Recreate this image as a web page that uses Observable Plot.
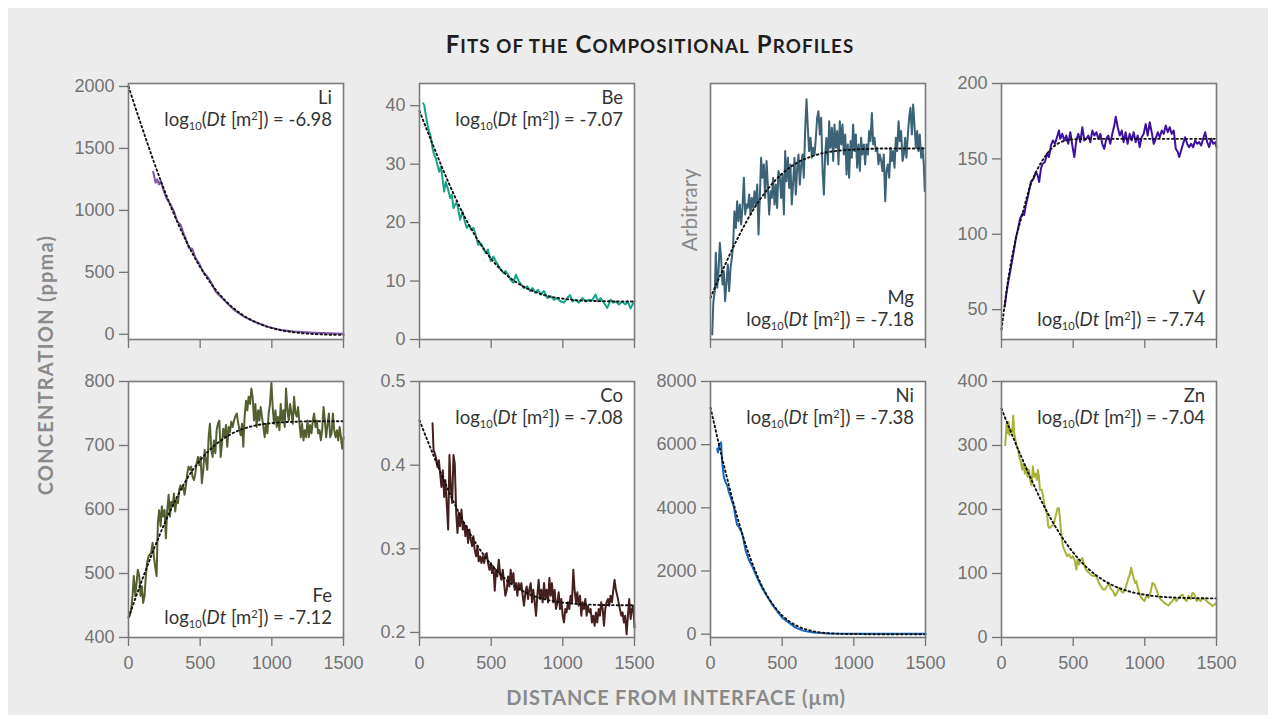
<!DOCTYPE html>
<html>
<head>
<meta charset="utf-8">
<script src="https://cdn.jsdelivr.net/npm/d3@7"></script>
<script src="https://cdn.jsdelivr.net/npm/@observablehq/plot@0.6"></script>
<style>
  html, body { margin: 0; padding: 0; background: #ffffff; }
  #page { position: relative; width: 1276px; height: 723px; overflow: hidden; background: #ffffff; }
  #bg { position: absolute; left: 8px; top: 8px; width: 1260px; height: 707px; background: #ececec; }
  .panel { position: absolute; }
  .panel svg { display: block; }
  .ann { position: absolute; text-align: right; font-family: Lato, "Open Sans", sans-serif; font-size: 18.5px; line-height: 22px; color: #333; white-space: nowrap; }
  .ann .sub { font-size: 0.6em; position: relative; top: 0.38em; }
  .ann .sup { font-size: 0.6em; position: relative; top: -0.5em; }
  #title { position: absolute; top: 45px; left: 650px; transform: translate(-50%, -50%); font-family: Lato, sans-serif; font-weight: 700; font-size: 24px; color: #1e1e1e; white-space: nowrap; letter-spacing: 1.1px; line-height: 26px; }
  #title .sc { font-size: 0.78em; }
  .axtitle { position: absolute; font-family: Lato, sans-serif; font-weight: 700; font-size: 20px; color: #8a8a8a; white-space: nowrap; }
  #ylab { left: 45px; top: 365px; transform: translate(-50%, -50%) rotate(-90deg); letter-spacing: 1.2px; }
  #xlab { left: 676px; top: 697px; transform: translate(-50%, -50%); letter-spacing: 0.8px; }
  #arb { position: absolute; left: 688px; top: 210px; transform: translate(-50%, -50%) rotate(-90deg); font-family: Lato, sans-serif; font-size: 21px; color: #8a8a8a; white-space: nowrap; }
</style>
</head>
<body>
<div id="page">
  <div id="bg"></div>
  <div id="title">F<span class="sc">ITS OF THE</span> C<span class="sc">OMPOSITIONAL</span> P<span class="sc">ROFILES</span></div>
  <div id="ylab" class="axtitle">CONCENTRATION (ppma)</div>
  <div id="xlab" class="axtitle">DISTANCE FROM INTERFACE (µm)</div>
  <div id="arb">Arbitrary</div>
</div>
<script>
// ---------- DATA (distance µm, value) ----------
const xTicks = [0, 500, 1000, 1500];

const liProfile = [[172,1312],[189,1223],[200,1250],[212,1209],[224,1236],[235,1196],[259,1115],[270,1088],[293,1047],[317,993],[340,912],[363,885],[387,804],[398,777],[422,696],[445,690],[468,615],[491,575],[526,494],[550,467],[573,426],[608,345],[643,305],[689,251],[736,197],[806,143],[876,103],[969,62],[1062,35],[1155,22],[1295,13],[1500,5]];
const liFit = [[0,2000],[100,1650],[200,1318],[300,1018],[400,758],[500,542],[600,372],[700,244],[800,153],[900,91],[1000,50],[1100,25],[1200,10],[1300,2],[1400,-3],[1500,-5]];
const liTicks = [0, 500, 1000, 1500, 2000];

const beProfile = [[26,40.4],[33,40.1],[44,38.4],[56,36.7],[67,35.6],[79,34.7],[91,32.7],[102,31.6],[114,31.0],[137,28.7],[149,29.6],[160,27.6],[172,25.3],[183,27.0],[200,25.6],[214,24.2],[225,24.8],[237,22.5],[253,23.3],[265,23.0],[283,20.5],[300,21.9],[316,20.2],[330,19.1],[346,19.6],[362,18.8],[376,19.1],[392,17.9],[409,16.2],[427,16.5],[446,15.6],[462,14.8],[478,15.4],[497,13.4],[515,14.2],[532,13.4],[548,12.8],[567,11.9],[585,11.4],[601,11.7],[618,11.1],[636,10.2],[655,9.7],[673,11.1],[692,10.0],[711,9.4],[729,8.8],[752,9.1],[771,8.3],[789,8.8],[808,8.0],[827,8.5],[845,7.7],[868,8.3],[892,7.1],[915,7.4],[938,6.8],[961,7.1],[985,6.5],[1008,6.3],[1031,7.1],[1050,7.6],[1068,6.5],[1089,6.8],[1112,6.3],[1136,7.1],[1159,6.5],[1182,6.8],[1205,6.7],[1228,7.7],[1245,6.5],[1263,7.1],[1286,6.3],[1310,5.4],[1333,6.8],[1351,6.3],[1370,6.5],[1391,6.0],[1414,6.5],[1437,6.0],[1454,6.5],[1472,5.3],[1486,6.0],[1500,6.5]];
const beFit = [[0,39.1],[100,32.9],[200,27.0],[300,21.7],[400,17.3],[500,13.8],[600,11.2],[700,9.4],[800,8.2],[900,7.4],[1000,7.0],[1100,6.7],[1200,6.6],[1300,6.55],[1400,6.5],[1500,6.5]];
const beTicks = [0, 10, 20, 30, 40];

const mgProfile = [[12,2.0],[19,13.7],[23,16.3],[30,18.9],[37,33.9],[47,20.2],[56,26.7],[65,37.8],[74,31.9],[84,21.5],[93,26.7],[102,15.0],[112,22.8],[121,29.3],[130,18.9],[140,28.0],[149,31.9],[158,37.1],[167,50.1],[177,43.6],[186,54.0],[195,46.2],[205,52.7],[214,44.9],[223,51.4],[233,63.2],[242,48.8],[251,52.7],[260,51.4],[270,56.6],[279,48.8],[288,55.3],[298,51.4],[307,57.9],[316,52.7],[326,60.5],[335,41.0],[344,55.3],[353,71.0],[363,63.2],[372,68.4],[381,55.3],[391,69.7],[400,60.5],[409,48.8],[419,57.9],[428,55.3],[437,63.2],[447,52.7],[456,60.5],[465,51.4],[474,65.8],[484,63.2],[493,55.3],[502,64.5],[512,48.8],[521,73.6],[530,61.8],[540,71.0],[549,59.2],[558,68.4],[567,52.7],[577,61.8],[586,71.0],[595,56.6],[605,67.1],[614,72.3],[623,60.5],[633,68.4],[642,72.3],[651,63.2],[660,81.4],[670,93.8],[679,82.7],[688,73.6],[698,78.8],[707,71.0],[716,74.9],[726,72.3],[735,78.8],[744,86.6],[753,89.2],[763,80.1],[772,86.6],[781,67.1],[791,56.6],[800,72.3],[809,78.8],[819,68.4],[828,85.3],[837,74.9],[847,82.7],[856,69.7],[865,84.0],[874,74.9],[884,81.4],[893,68.4],[902,85.3],[912,76.2],[921,84.0],[930,72.3],[940,80.1],[949,64.5],[958,76.2],[967,63.2],[977,77.5],[986,71.0],[995,84.0],[1005,73.6],[1014,80.1],[1023,67.1],[1033,76.2],[1042,65.8],[1051,78.8],[1060,72.3],[1070,76.2],[1079,68.4],[1088,76.2],[1098,72.3],[1107,81.4],[1116,77.5],[1126,88.5],[1135,76.2],[1144,78.8],[1153,73.6],[1163,74.9],[1172,68.4],[1181,72.3],[1191,69.7],[1200,65.8],[1209,72.3],[1219,54.0],[1228,65.8],[1237,68.4],[1247,63.2],[1256,74.9],[1265,69.7],[1274,73.6],[1284,67.1],[1293,78.8],[1302,73.6],[1312,85.3],[1321,77.5],[1330,81.4],[1340,69.7],[1349,72.3],[1358,78.8],[1367,71.0],[1377,80.1],[1386,86.6],[1395,90.5],[1405,80.1],[1414,91.8],[1423,84.0],[1433,74.9],[1442,81.4],[1451,73.6],[1460,80.1],[1470,71.0],[1479,74.9],[1488,68.4],[1495,57.9]];
const mgFit = [[0,16.3],[100,29.0],[200,40.7],[300,50.8],[400,58.8],[500,64.8],[600,68.9],[700,71.4],[800,73.0],[900,73.8],[1000,74.2],[1100,74.45],[1200,74.6],[1300,74.6],[1400,74.6],[1500,74.6]];

const vProfile = [[23,52.2],[33,59.9],[42,65.4],[54,72.0],[65,77.5],[77,84.1],[89,90.7],[100,97.3],[116,103.9],[130,110.5],[147,113.8],[158,112.7],[170,119.3],[186,125.9],[205,134.7],[224,136.9],[240,141.3],[252,139.1],[263,134.7],[275,143.5],[287,146.8],[303,147.9],[317,153.4],[331,151.2],[345,158.9],[359,162.2],[373,160.0],[387,164.4],[401,168.8],[410,163.3],[424,166.6],[438,162.2],[452,165.5],[466,160.0],[480,167.7],[494,158.9],[508,151.2],[522,162.2],[536,166.6],[550,161.1],[564,171.0],[578,162.2],[592,163.3],[606,165.5],[620,161.1],[634,168.8],[648,165.5],[662,167.7],[676,163.3],[690,166.6],[703,160.0],[717,156.7],[731,163.3],[745,165.5],[759,160.0],[773,166.6],[787,172.1],[797,178.0],[811,171.0],[825,165.5],[839,168.8],[852,161.1],[866,167.7],[880,160.0],[894,166.6],[908,162.2],[922,167.7],[936,161.1],[950,165.5],[964,157.8],[978,164.4],[992,166.6],[1006,173.2],[1020,165.5],[1034,174.3],[1048,167.7],[1062,160.0],[1076,163.3],[1090,167.7],[1104,164.4],[1118,168.8],[1132,166.6],[1146,172.1],[1160,167.7],[1174,171.0],[1188,166.6],[1202,168.8],[1216,156.7],[1230,154.5],[1240,151.2],[1253,155.6],[1267,160.0],[1281,164.4],[1295,160.0],[1309,157.8],[1323,160.0],[1337,157.8],[1351,162.2],[1365,160.0],[1379,161.1],[1393,158.9],[1407,163.3],[1421,167.7],[1435,161.1],[1449,157.8],[1463,163.3],[1477,160.0],[1491,161.1],[1500,157.8]];
const vFit = [[0,36.8],[50,72],[100,97],[150,115],[200,132],[250,143],[300,151],[350,157],[400,160.5],[450,162.2],[500,163],[600,163.3],[700,163.3],[800,163.3],[900,163.3],[1000,163.3],[1100,163.3],[1200,163.3],[1300,163.3],[1400,163.3],[1500,163.3]];
const vTicks = [50, 100, 150, 200];

const feProfile = [[9,434],[19,444],[28,465],[37,496],[47,465],[56,485],[65,506],[75,496],[84,465],[93,480],[102,454],[112,465],[121,496],[130,517],[140,527],[149,530],[158,532],[168,548],[177,527],[186,511],[196,496],[205,579],[214,599],[224,574],[233,605],[242,589],[252,599],[261,555],[270,599],[280,623],[289,589],[298,612],[308,605],[317,625],[326,597],[335,615],[345,610],[354,631],[363,638],[373,631],[382,636],[391,623],[401,638],[410,656],[419,667],[429,662],[438,667],[447,651],[457,646],[466,656],[475,672],[485,682],[494,669],[503,682],[512,641],[522,662],[531,693],[540,677],[550,662],[559,713],[568,734],[578,693],[587,682],[596,708],[606,688],[615,724],[624,734],[634,739],[643,682],[652,703],[661,726],[671,713],[680,732],[689,698],[699,729],[708,721],[717,737],[727,729],[736,739],[745,745],[755,750],[764,737],[773,726],[783,716],[792,734],[801,698],[810,745],[820,770],[829,755],[838,776],[848,765],[857,789],[866,776],[876,739],[885,765],[894,729],[904,755],[913,739],[922,760],[931,745],[941,729],[950,713],[959,734],[969,719],[978,750],[987,765],[997,798],[1006,760],[1015,734],[1025,755],[1034,729],[1043,745],[1053,724],[1062,765],[1071,739],[1081,755],[1090,729],[1099,789],[1109,755],[1118,739],[1127,765],[1137,750],[1146,734],[1155,776],[1165,750],[1174,745],[1183,760],[1193,734],[1202,713],[1211,734],[1221,708],[1230,724],[1239,713],[1249,739],[1258,713],[1267,732],[1277,719],[1286,739],[1295,750],[1305,729],[1314,739],[1323,719],[1333,724],[1342,708],[1351,724],[1361,760],[1370,739],[1379,713],[1389,734],[1398,750],[1407,713],[1417,719],[1426,750],[1435,724],[1445,713],[1454,724],[1463,708],[1473,729],[1482,713],[1491,695],[1500,713]];
const feFit = [[0,431],[100,493],[200,551],[300,602],[400,645],[500,677],[600,700],[700,716],[800,726],[900,732],[1000,735],[1100,736.6],[1200,737.4],[1300,738],[1400,738],[1500,738]];
const feTicks = [400, 500, 600, 700, 800];

const coProfile = [[91,0.450],[98,0.418],[107,0.414],[116,0.408],[125,0.398],[135,0.406],[144,0.390],[153,0.374],[163,0.394],[172,0.362],[181,0.382],[191,0.351],[200,0.323],[209,0.412],[218,0.374],[228,0.355],[237,0.412],[246,0.402],[256,0.343],[265,0.319],[274,0.343],[283,0.327],[293,0.347],[302,0.323],[311,0.331],[320,0.315],[330,0.327],[339,0.307],[348,0.323],[358,0.311],[367,0.303],[376,0.315],[385,0.299],[395,0.291],[404,0.303],[413,0.285],[423,0.291],[432,0.283],[441,0.291],[451,0.283],[460,0.293],[469,0.295],[478,0.283],[488,0.275],[497,0.283],[506,0.271],[516,0.279],[525,0.250],[534,0.275],[543,0.267],[553,0.287],[562,0.271],[571,0.263],[581,0.275],[590,0.259],[599,0.244],[609,0.251],[618,0.267],[627,0.255],[636,0.275],[646,0.259],[655,0.271],[664,0.251],[674,0.259],[683,0.244],[692,0.259],[701,0.251],[711,0.259],[720,0.244],[729,0.232],[739,0.248],[748,0.255],[757,0.240],[766,0.251],[776,0.259],[785,0.236],[794,0.251],[804,0.236],[813,0.220],[822,0.244],[831,0.263],[841,0.240],[850,0.251],[859,0.236],[869,0.259],[878,0.240],[887,0.251],[897,0.236],[906,0.265],[915,0.244],[924,0.259],[934,0.236],[943,0.251],[952,0.228],[962,0.236],[971,0.248],[980,0.228],[989,0.240],[999,0.220],[1008,0.212],[1017,0.228],[1026,0.224],[1036,0.236],[1045,0.228],[1054,0.244],[1064,0.236],[1073,0.275],[1082,0.251],[1092,0.236],[1101,0.248],[1110,0.232],[1120,0.244],[1129,0.220],[1138,0.236],[1147,0.228],[1157,0.240],[1166,0.220],[1175,0.232],[1185,0.224],[1194,0.228],[1203,0.212],[1213,0.220],[1222,0.208],[1231,0.224],[1240,0.212],[1250,0.228],[1259,0.220],[1268,0.236],[1278,0.228],[1287,0.208],[1296,0.228],[1305,0.236],[1315,0.240],[1324,0.232],[1333,0.244],[1343,0.236],[1352,0.251],[1361,0.263],[1370,0.251],[1380,0.244],[1389,0.236],[1398,0.228],[1408,0.220],[1417,0.224],[1426,0.212],[1435,0.220],[1445,0.198],[1454,0.220],[1463,0.240],[1473,0.216],[1482,0.228],[1491,0.232],[1500,0.206]];
const coFit = [[0,0.4536],[100,0.4107],[200,0.3704],[300,0.3346],[400,0.3048],[500,0.2813],[600,0.2637],[700,0.2515],[800,0.2435],[900,0.2386],[1000,0.2357],[1100,0.2341],[1200,0.2332],[1300,0.2328],[1400,0.2326],[1500,0.2325]];
const coTicks = [0.2, 0.3, 0.4, 0.5];

const niProfile = [[47,5863],[52,5750],[58,5968],[66,6040],[74,6073],[81,5444],[93,4973],[105,4816],[116,4712],[128,4502],[140,4345],[151,4188],[163,4031],[174,3717],[186,3455],[198,3403],[209,3298],[221,3193],[244,2670],[267,2356],[291,2146],[326,1780],[360,1466],[395,1204],[430,942],[465,733],[500,524],[547,366],[593,209],[651,105],[721,52],[814,21],[1047,10],[1500,10]];
const niFit = [[0,7170],[50,6183],[100,5227],[150,4324],[200,3499],[250,2768],[300,2144],[350,1610],[400,1187],[450,850],[500,592],[600,270],[700,110],[800,40],[900,13],[1000,4],[1100,0],[1200,0],[1300,0],[1400,0],[1500,0]];
const niTicks = [0, 2000, 4000, 6000, 8000];

const znProfile = [[26,300.5],[35,334],[42,319],[49,337],[56,316],[65,326],[75,321],[82,347],[89,319],[98,308],[107,298],[116,293],[126,280],[135,275],[144,262],[154,272],[163,256],[172,267],[182,251],[191,262],[200,246],[210,238],[219,267],[228,251],[238,256],[247,246],[254,262],[261,251],[268,231],[280,231],[289,223],[298,210],[308,199],[317,194],[326,174],[335,171],[349,174],[363,176],[377,189],[391,202],[401,202],[410,179],[419,158],[429,142],[443,135],[457,127],[471,130],[485,124],[498,127],[513,119],[522,106],[531,122],[540,114],[550,119],[564,124],[573,117],[582,109],[596,104],[610,101],[624,98],[638,96],[652,98],[666,93],[680,85],[694,80],[708,75],[722,75],[736,80],[750,85],[764,75],[778,73],[792,65],[806,70],[820,78],[834,73],[848,70],[862,75],[876,85],[885,93],[895,98],[904,109],[913,101],[922,93],[932,85],[941,88],[950,78],[960,70],[969,65],[983,60],[997,57],[1011,65],[1025,62],[1039,70],[1053,85],[1067,83],[1081,75],[1095,65],[1109,60],[1123,57],[1137,54],[1151,52],[1165,50],[1179,54],[1193,57],[1207,62],[1221,57],[1235,62],[1249,65],[1263,67],[1277,60],[1291,57],[1305,65],[1319,60],[1333,70],[1347,67],[1361,57],[1375,60],[1389,57],[1403,62],[1417,60],[1431,57],[1445,54],[1459,52],[1473,49],[1487,52],[1500,54]];
const znFit = [[0,357.5],[100,302.6],[200,250.8],[300,203.9],[400,164.5],[500,132.8],[600,108.4],[700,91.0],[800,79.0],[900,71.4],[1000,66.8],[1100,63.9],[1200,62.5],[1300,61.7],[1400,61.3],[1500,61.1]];
const znTicks = [0, 100, 200, 300, 400];

const elements = ["Li", "Be", "Mg", "V", "Fe", "Co", "Ni", "Zn"];
const logDt = ["-6.98", "-7.07", "-7.18", "-7.74", "-7.12", "-7.08", "-7.38", "-7.04"];
const colors = ["#7f58a8", "#17a48a", "#3b6277", "#3d10a0", "#545f2f", "#46201e", "#1468c0", "#a8b23b"];
const profiles = [liProfile, beProfile, mgProfile, vProfile, feProfile, coProfile, niProfile, znProfile];
const fits = [liFit, beFit, mgFit, vFit, feFit, coFit, niFit, znFit];
const yDomains = [[-42, 2024], [0, 43.8], [0, 100], [30.2, 200], [400, 800], [0.194, 0.5], [-105, 8000], [0, 400]];
const yTickSets = [liTicks, beTicks, null, vTicks, feTicks, coTicks, niTicks, znTicks];
const annAtBottom = [false, false, true, true, true, false, false, false];

// ---------- LAYOUT ----------
const page = document.getElementById("page");
const colLeft = [128, 419, 710, 1001];
const rowTop = [83, 381];
const FW = 215, FH = 256;
const ML = 70, MR = 5, MT = 10, MB = 40;

elements.forEach((el, i) => {
  const col = i % 4, row = Math.floor(i / 4);
  const fx = colLeft[col], fy = rowTop[row];
  const ticks = yTickSets[i];
  const marks = [
    Plot.frame({fill: "white", stroke: null}),
    Plot.axisX(xTicks, {tickSize: 9, tickPadding: 10, strokeWidth: 1.3, label: null,
      tickFormat: row === 1 ? (d => String(d)) : (() => "")}),
    ticks ? Plot.axisY(ticks, {tickSize: 9, tickPadding: 5, strokeWidth: 1.3, label: null, tickFormat: d => String(d)}) : null,
    Plot.line(profiles[i], {x: d => d[0], y: d => d[1], stroke: colors[i], strokeWidth: 2, strokeLinejoin: "round"}),
    Plot.line(fits[i], {x: d => d[0], y: d => d[1], stroke: "#111", strokeWidth: 1.9, strokeDasharray: "1.6,3", curve: "monotone-x"}),
    Plot.frame({stroke: "#7a7a7a", strokeWidth: 1.6})
  ].filter(Boolean);
  const svg = Plot.plot({
    width: ML + FW + MR, height: MT + FH + MB,
    marginLeft: ML, marginRight: MR, marginTop: MT, marginBottom: MB,
    style: {background: "transparent", overflow: "visible", color: "#737373",
            fontFamily: "'Liberation Sans', Arial, sans-serif", fontSize: "18px"},
    x: {domain: [0, 1500]},
    y: ticks ? {domain: yDomains[i]} : {domain: yDomains[i], axis: null},
    marks
  });
  const wrap = document.createElement("div");
  wrap.className = "panel";
  wrap.style.left = (fx - ML) + "px";
  wrap.style.top = (fy - MT) + "px";
  wrap.appendChild(svg);
  page.appendChild(wrap);

  const ann = document.createElement("div");
  ann.className = "ann";
  ann.style.left = fx + "px";
  ann.style.width = (FW - 11) + "px";
  ann.style.top = (annAtBottom[i] ? (fy + FH - 53) : (fy + 3)) + "px";
  ann.innerHTML = `${el}<br>log<span class="sub">10</span>(<i>Dt</i> [m<span class="sup">2</span>]) = ${logDt[i]}`;
  page.appendChild(ann);
});
</script>
</body>
</html>
